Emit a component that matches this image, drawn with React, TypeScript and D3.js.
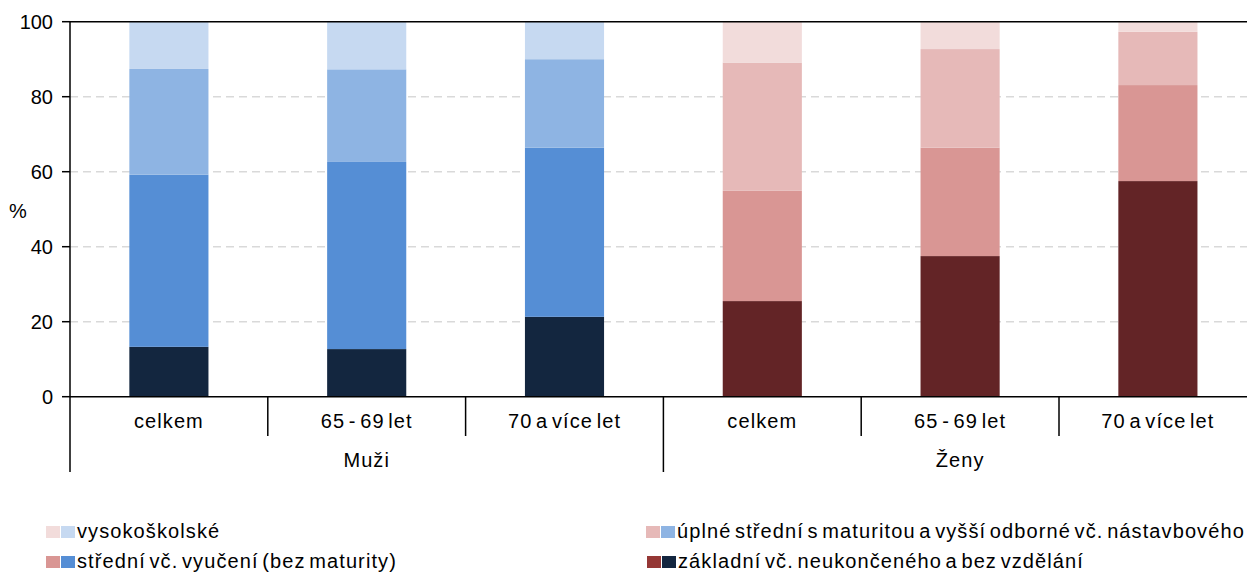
import React from "react";
import * as d3 from "d3";

const categories = ["celkem", "65 - 69 let", "70 a více let", "celkem", "65 - 69 let", "70 a více let"];
const groups = ["Muži", "Ženy"];
const groupOf = [0, 0, 0, 1, 1, 1];
const seriesNames = [
  "základní vč. neukončeného a bez vzdělání",
  "střední vč. vyučení (bez maturity)",
  "úplné střední s maturitou a vyšší odborné vč. nástavbového",
  "vysokoškolské",
];
const zakladni = [13.3, 12.7, 21.3, 25.5, 37.5, 57.5];
const stredni = [45.9, 49.9, 45.1, 29.4, 28.9, 25.6];
const uplne = [28.2, 24.7, 23.6, 34.2, 26.3, 14.2];
const vysoko = [12.6, 12.7, 10.0, 10.9, 7.3, 2.7];
const yTicks = [0, 20, 40, 60, 80, 100];

const blueColors = ["#13263f", "#558ed5", "#8eb4e3", "#c6d9f1"];
const redColors = ["#632426", "#d99694", "#e6b9b8", "#f2dcdb"];
const redLegend = ["#953735", "#d99694", "#e6b9b8", "#f2dcdb"];

export default function App() {
  const W = 1247, H = 572;
  const x0 = 70;
  const step = 197.8;
  const x = d3.scaleBand<number>().domain(d3.range(6)).range([x0, x0 + 6 * step]).paddingInner(0.6).paddingOuter(0.3);
  const y = d3.scaleLinear().domain([0, 100]).range([396.7, 21.7]);
  const series = [zakladni, stredni, uplne, vysoko];
  const font = "'Liberation Sans', Arial, sans-serif";

  const rows = d3.range(6).map((i) => {
    const vals = series.map((s) => s[i]);
    let acc = 0;
    return vals.map((v, k) => {
      const seg = { k, y0: acc, y1: acc + v };
      acc += v;
      return seg;
    });
  });

  const legendItems = [
    { k: 3, x: 46, y: 526 },
    { k: 2, x: 646, y: 526 },
    { k: 1, x: 46, y: 556 },
    { k: 0, x: 647, y: 556 },
  ];

  const lab = { fontSize: 20, letterSpacing: 1.1, wordSpacing: -3 } as const;

  return (
    <svg width={W} height={H} style={{ position: "absolute", left: 0, top: 0, background: "#fff" }} fontFamily={font}>
      {yTicks.filter((t) => t > 0 && t < 100).map((t) => (
        <line key={t} x1={x0} x2={W} y1={y(t)} y2={y(t)} stroke="#d9d9d9" strokeWidth={1.5} strokeDasharray="8 5" />
      ))}
      {rows.map((segs, i) =>
        segs.map((s) => (
          <rect
            key={i + "-" + s.k}
            x={x(i)}
            width={x.bandwidth()}
            y={y(Math.min(100, s.y1))}
            height={y(s.y0) - y(Math.min(100, s.y1))}
            fill={groupOf[i] === 0 ? blueColors[s.k] : redColors[s.k]}
          />
        ))
      )}
      <line x1={x0} x2={W} y1={y(100)} y2={y(100)} stroke="#000" strokeWidth={1.5} />
      <line x1={x0} x2={W} y1={y(0)} y2={y(0)} stroke="#000" strokeWidth={1.5} />
      <line x1={x0} x2={x0} y1={y(100)} y2={472} stroke="#000" strokeWidth={1.5} />
      {yTicks.map((t) => (
        <g key={t}>
          <line x1={x0 - 8} x2={x0} y1={y(t)} y2={y(t)} stroke="#000" strokeWidth={1.5} />
          <text x={53} y={y(t)} dy="0.35em" textAnchor="end" fontSize={20}>{t}</text>
        </g>
      ))}
      <text x={18} y={211} dy="0.35em" textAnchor="middle" fontSize={20}>%</text>
      {d3.range(1, 6).map((i) => (
        <line key={i} x1={x0 + i * step} x2={x0 + i * step} y1={y(0)} y2={i === 3 ? 472 : 436} stroke="#000" strokeWidth={1.5} />
      ))}
      {categories.map((c, i) => (
        <text key={i} x={(x(i) as number) + x.bandwidth() / 2} y={428} textAnchor="middle" {...lab}>{c}</text>
      ))}
      {groups.map((g, gi) => (
        <text key={g} x={x0 + (gi * 3 + 1.5) * step} y={467} textAnchor="middle" {...lab}>{g}</text>
      ))}
      {legendItems.map((it) => (
        <g key={it.k}>
          <rect x={it.x} y={it.y} width={14} height={12} fill={redLegend[it.k]} />
          <rect x={it.x + 15} y={it.y} width={14} height={12} fill={blueColors[it.k]} />
          <text x={it.x + 31} y={it.y + 12} {...lab}>{seriesNames[it.k]}</text>
        </g>
      ))}
    </svg>
  );
}
